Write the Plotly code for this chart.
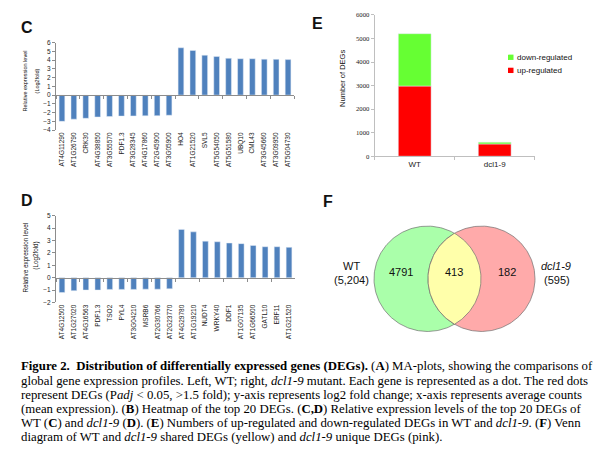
import numpy as np
import plotly.graph_objects as go

W, H = 610, 450

# ---- data ----
# C: top 20 DEGs of WT (log2 fold)
c_genes = ["AT4G11290", "AT1G26790", "CRK30", "AT4G38850", "AT3G55570",
           "PDF1.3", "AT3G28345", "AT4G17860", "AT2G45900", "AT3G05900",
           "HO4", "AT1G21520", "SVL5", "AT5G54050", "AT5G51580",
           "UBQ10", "CML43", "AT3G45660", "AT3G09950", "AT5G04730"]
c_values = [-3.0, -2.75, -2.65, -2.5, -2.45, -2.4, -2.38, -2.37, -2.35, -2.3,
            5.4, 5.1, 4.55, 4.4, 4.2, 4.15, 4.15, 4.1, 4.08, 4.05]

# D: top 20 DEGs of dcl1-9
d_genes = ["AT4G12500", "AT1G27020", "AT4G16563", "PDF1.3", "TSO2",
           "PYL4", "AT3G04210", "MSRB6", "AT2G30766", "AT2G23770",
           "AT4G29780", "AT1G19210", "NUDT4", "WRKY40", "DDF1",
           "AT1G07135", "AT1G66500", "GATL10", "ERF11", "AT1G21520"]
d_values = [-1.2, -1.05, -1.0, -1.0, -0.95, -0.95, -0.95, -0.93, -0.93, -0.9,
            3.9, 3.7, 2.95, 2.9, 2.8, 2.75, 2.6, 2.5, 2.5, 2.45]

# E: number of DEGs
e_groups = ["WT", "dcl1-9"]
e_total = [5204, 595]
e_up = [2980, 520]
e_down = [t - u for t, u in zip(e_total, e_up)]

# F: Venn counts
wt_total, dcl_total, shared = 5204, 595, 413

BLUE = "#4F81BD"
GREEN = "#66FF33"
RED = "#FF0000"
AX = "#8C8C8C"
SANS = "Liberation Sans, Arial, sans-serif"
SERIF = "Liberation Serif, Times New Roman, serif"


def px(x):
    return x / W


def py(y):
    return 1 - y / H


fig = go.Figure()

# C and D: labelled axis at the bottom, a second axis carries the zero line
for genes, vals, n, zx in [(c_genes, c_values, "", "5"), (d_genes, d_values, "2", "6")]:
    fig.add_bar(x=genes, y=vals, marker_color=BLUE, width=0.48,
                xaxis="x" + n, yaxis="y" + n, showlegend=False)
    fig.add_bar(x=genes, y=vals, marker_opacity=0, width=0.48,
                xaxis="x" + zx, yaxis="y" + n, showlegend=False,
                hoverinfo="skip")

fig.add_bar(x=e_groups, y=e_up, marker_color=RED, width=0.41,
            xaxis="x3", yaxis="y3", showlegend=False)
fig.add_bar(x=e_groups, y=e_down, marker_color=GREEN, width=0.41,
            xaxis="x3", yaxis="y3", showlegend=False)

# ---- Venn (F) on a hidden axis, 1 unit = circle radius ----
R_PX, CX_PX, CY_PX = 53.5, 446.5, 271
a = 27 / R_PX
t = np.linspace(0, 2 * np.pi, 200)
venn_line = dict(color="#707070", width=0.7)
fig.add_scatter(x=-a + np.cos(t), y=np.sin(t), fill="toself", mode="lines",
                fillcolor="#AAFFAA", line=venn_line, xaxis="x4", yaxis="y4",
                showlegend=False, hoverinfo="skip")
fig.add_scatter(x=a + np.cos(t), y=np.sin(t), fill="toself", mode="lines",
                fillcolor="#FFAAAA", line=venn_line, xaxis="x4", yaxis="y4",
                showlegend=False, hoverinfo="skip")
th = np.arccos(a)
t1 = np.linspace(-th, th, 80)
t2 = np.linspace(np.pi - th, np.pi + th, 80)
lx = np.concatenate([-a + np.cos(t1), a + np.cos(t2)])
ly = np.concatenate([np.sin(t1), np.sin(t2)])
fig.add_scatter(x=lx, y=ly, fill="toself", mode="lines", fillcolor="#FFFFAA",
                line=venn_line, xaxis="x4", yaxis="y4", showlegend=False,
                hoverinfo="skip")


# ---- axes ----
def bar_axes(n, zx, left, right, top, bottom, ymin, ymax):
    dom_y = [py(bottom), py(top)]
    zero = dom_y[0] + (0 - ymin) / (ymax - ymin) * (dom_y[1] - dom_y[0])
    sfx = "" if n == 1 else str(n)
    tf = dict(family=SANS, size=6.5, color="#222")
    xa = dict(domain=[px(left), px(right)], anchor="y" + sfx, type="category",
              showline=False, ticks="", tickangle=-90, showgrid=False,
              tickfont=tf)
    xz = dict(overlaying="x" + sfx, matches="x" + sfx, anchor="free",
              position=zero, type="category", showline=True, linecolor=AX,
              linewidth=1, ticks="outside", tickson="boundaries", ticklen=3,
              tickcolor=AX, showticklabels=False, showgrid=False)
    ya = dict(domain=dom_y, anchor="x" + sfx, range=[ymin, ymax], dtick=1,
              showline=True, linecolor=AX, linewidth=1, ticks="outside",
              ticklen=3, tickcolor=AX, showgrid=False, zeroline=False,
              tickfont=tf)
    fig.update_layout({"xaxis" + sfx: xa, "yaxis" + sfx: ya, "xaxis" + zx: xz})


bar_axes(1, "5", 48, 286, 31, 120, -4, 6)
bar_axes(2, "6", 48, 287, 207, 295, -2, 5)

fig.update_layout(
    xaxis3=dict(domain=[px(366.7), px(526.7)], anchor="y3", showline=True,
                linecolor="#BFBFBF", ticks="outside", tickson="boundaries",
                ticklen=3, tickcolor="#BFBFBF", showgrid=False,
                tickfont=dict(family=SANS, size=8, color="#222")),
    yaxis3=dict(domain=[py(146.5), py(3)], anchor="x3", range=[0, 6000],
                dtick=1000, showline=True, linecolor="#BFBFBF",
                ticks="outside", ticklen=3, tickcolor="#BFBFBF",
                showgrid=False, zeroline=False,
                tickfont=dict(family=SERIF, size=6.7, color="#222")),
    xaxis4=dict(domain=[px(300), 1], anchor="y4", visible=False,
                range=[(300 - CX_PX) / R_PX, (610 - CX_PX) / R_PX]),
    yaxis4=dict(domain=[py(340), py(170)], anchor="x4", visible=False,
                range=[(CY_PX - 340) / R_PX, (CY_PX - 170) / R_PX]),
)

# ---- annotations ----
ann = []


def label(x, y, text, size, family=SANS, angle=0, xanchor="center", color="#111"):
    ann.append(dict(x=px(x), y=py(y), xref="paper", yref="paper", text=text,
                    showarrow=False, textangle=angle, xanchor=xanchor,
                    yanchor="middle",
                    font=dict(family=family, size=size, color=color)))


for ch, x, y in [("C", 19, 16), ("D", 19, 191), ("E", 309, 12), ("F", 320, 192)]:
    label(x, y, "<b>" + ch + "</b>", 16)

label(16.5, 70, "Relative expression level", 5.5, angle=-90)
label(28.5, 70, "(Log2fold)", 5.5, angle=-90)
label(18.5, 250, "Relative expression level", 6.3, angle=-90)
label(28.5, 248, "(Log2fold)", 6.3, angle=-90)
label(335, 68, "Number of DEGs", 7.5, angle=-90)

# E legend
shapes = []
for i, (name, col) in enumerate([("down-regulated", GREEN), ("up-regulated", RED)]):
    yc = 46 + i * 13.3
    shapes.append(dict(type="rect", xref="paper", yref="paper",
                       x0=px(500), x1=px(505.5), y0=py(yc + 2.7), y1=py(yc - 2.7),
                       fillcolor=col, line_width=0))
    label(507, yc, name, 8, xanchor="left")

# Venn texts
venn_nums = [wt_total - shared, shared, dcl_total - shared]
for x, n in zip([393, 446, 499], venn_nums):
    ann.append(dict(x=(x - CX_PX) / R_PX, y=(CY_PX - 264) / R_PX, xref="x4",
                    yref="y4", text=str(n), showarrow=False,
                    font=dict(family=SANS, size=11, color="#111")))
label(343, 258, "WT", 11)
label(343, 272, "({:,})".format(wt_total), 11)
label(548, 258, "<i>dcl1-9</i>", 11)
label(549, 272, "({})".format(dcl_total), 11)

# caption
caption = [
    "<b>Figure 2.\u00a0\u00a0Distribution of differentially expressed genes (DEGs).</b> (<b>A</b>) MA-plots, showing the comparisons of",
    "global gene expression profiles. Left, WT; right, <i>dcl1-9</i> mutant. Each gene is represented as a dot. The red dots",
    "represent DEGs (P<i>adj</i> &lt; 0.05, &gt;1.5 fold); y-axis represents log2 fold change; x-axis represents average counts",
    "(mean expression). (<b>B</b>) Heatmap of the top 20 DEGs. (<b>C,D</b>) Relative expression levels of the top 20 DEGs of",
    "WT (<b>C</b>) and <i>dcl1-9</i> (<b>D</b>). (<b>E</b>) Numbers of up-regulated and down-regulated DEGs in WT and <i>dcl1-9</i>. (<b>F</b>) Venn",
    "diagram of WT and <i>dcl1-9</i> shared DEGs (yellow) and <i>dcl1-9</i> unique DEGs (pink).",
]
for i, line in enumerate(caption):
    label(11, 360 + i * 14.4, line, 12.8, family=SERIF, xanchor="left",
          color="#000")

fig.update_layout(
    width=W, height=H, margin=dict(l=0, r=0, t=0, b=0),
    paper_bgcolor="white", plot_bgcolor="rgba(0,0,0,0)",
    barmode="overlay", annotations=ann, shapes=shapes, showlegend=False,
)
# E is stacked: overlay needs base values for the down-regulated part
fig.data[5].base = e_up

fig.write_html("out.html")
